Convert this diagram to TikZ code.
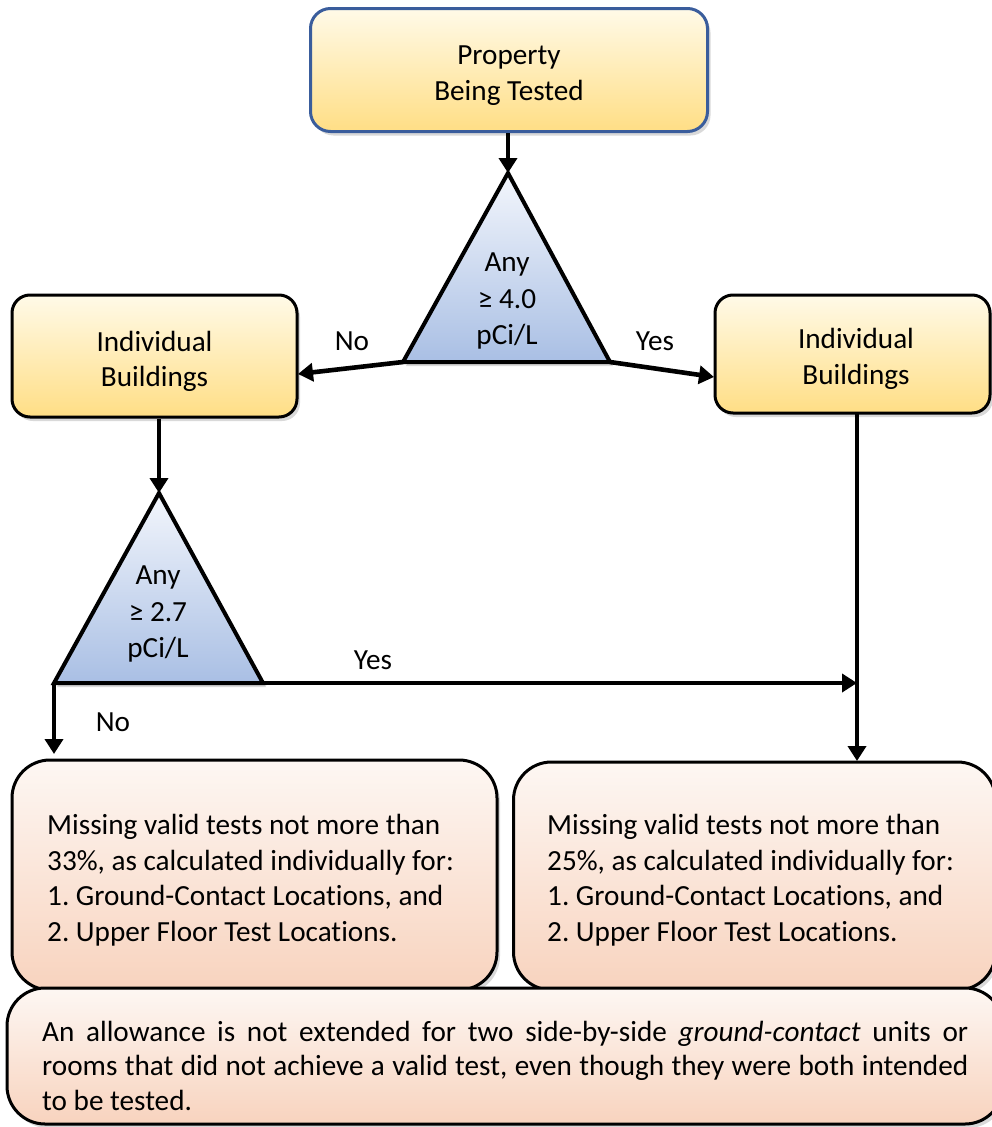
\documentclass[tikz,border=0pt]{standalone}
\usepackage{fontspec}
\setmainfont{Carlito}[Ligatures=NoCommon]
\usetikzlibrary{arrows.meta,shadows}
\definecolor{yTop}{HTML}{FFFAE8}
\definecolor{yBot}{HTML}{FFDE85}
\definecolor{bTop}{HTML}{F3F6FC}
\definecolor{bBot}{HTML}{A9BFE4}
\definecolor{pTop}{HTML}{FDF7F3}
\definecolor{pBot}{HTML}{F8D3BE}
\definecolor{topBorder}{HTML}{3A5D9C}
\newcommand\myfs{\fontsize{29.2}{35.5}\selectfont\frenchspacing}
\tikzset{
  shd/.style={drop shadow={opacity=0.3,shadow xshift=3pt,shadow yshift=-4pt}},
  ybox/.style={draw=black, line width=3pt, rounded corners=18pt, top color=yTop, bottom color=yBot,
    shd, inner sep=0pt},
  pbox/.style={draw=black, line width=3pt, rounded corners=38pt, top color=pTop, bottom color=pBot,
    shd, inner sep=0pt},
  tri/.style={draw=black, line width=4pt, top color=bTop, bottom color=bBot, shd},
  arr/.style={line width=4.6pt, -{Triangle[length=15pt,width=18pt]}},
  lbl/.style={font=\myfs, inner sep=0pt},
  ctext/.style={font=\myfs, align=center, inner sep=0pt},
  ltext/.style={font=\myfs, align=left, inner sep=0pt, anchor=west},
  tritext/.style={font=\fontsize{29.2}{36.5}\selectfont, align=center, inner sep=0pt}
}
\begin{document}
\begin{tikzpicture}[x=1pt,y=-1pt]
\useasboundingbox (0,0) rectangle (992,1127);

% top box
\node[ybox, draw=topBorder, rounded corners=20pt, minimum width=397pt, minimum height=123pt] (prop) at (509,70) {};
\node[ctext] (propT) at (509,75.5) {Property\\Being Tested};

% side boxes
\node[ybox, minimum width=285pt, minimum height=122pt] (lb) at (154.5,356) {};
\node[ctext] (lbT) at (154.5,361.5) {Individual\\Buildings};
\node[ybox, minimum width=275pt, minimum height=118pt] (rb) at (852.5,354) {};
\node[ctext] (rbT) at (856,359) {Individual\\Buildings};

% triangle 1
\coordinate (t1a) at (508,173);
\coordinate (t1l) at (403,362);
\coordinate (t1r) at (610,362);
\path[tri] (t1a) -- (t1l) -- (t1r) -- cycle;
\node[tritext] (t1) at (507,301) {Any\\≥ 4.0\\pCi/L};

% triangle 2
\coordinate (t2a) at (159,493);
\coordinate (t2l) at (54,683);
\coordinate (t2r) at (263,683);
\path[tri] (t2a) -- (t2l) -- (t2r) -- cycle;
\node[tritext] (t2) at (158,614) {Any\\≥ 2.7\\pCi/L};

% bottom boxes
\node[pbox, minimum width=485pt, minimum height=230pt] (bl) at (254.5,875) {};
\node[ltext] (blT) at (47,880)
  {Missing valid tests not more than\\33\%, as calculated individually for:\\1. Ground-Contact Locations, and\\2. Upper Floor Test Locations.};
\node[pbox, minimum width=482pt, minimum height=228pt] (br) at (754.5,876) {};
\node[ltext] (brT) at (547,880)
  {Missing valid tests not more than\\25\%, as calculated individually for:\\1. Ground-Contact Locations, and\\2. Upper Floor Test Locations.};
\node[pbox, minimum width=996pt, minimum height=136pt] (note) at (505,1056) {};
\node[ltext, font=\fontsize{29.2}{34.5}\selectfont\frenchspacing] (noteT) at (42,1065.5)
  {\hbox to 926pt{An allowance is not extended for two side-by-side \textit{ground-contact} units or}\\
   \hbox to 926pt{rooms that did not achieve a valid test, even though they were both intended}\\
   to be tested.};

% coordinates for connectors
\coordinate (propS) at (prop.south -| t1a);
\coordinate (lbS) at (lb.south -| t2a);
\coordinate (rbS) at (857,413);
\coordinate (join) at (857,683);
\coordinate (brN) at (857,761);
\coordinate (noEnd) at (54,754);
\coordinate (lbE) at (298,374);
\coordinate (rbW) at (714,377);

% connectors
\draw[arr] (propS) -- (t1a);
\draw[arr] (t1l) -- (lbE);
\draw[arr] (t1r) -- (rbW);
\draw[arr] (lbS) -- (t2a);
\draw[arr] (t2r) -- (join);
\draw[arr] (rbS) -- (brN);
\draw[arr] (t2l) -- (noEnd);

% labels
\node[lbl] (lno1) at (352,341) {No};
\node[lbl] (lyes1) at (655,341) {Yes};
\node[lbl] (lyes2) at (373,660) {Yes};
\node[lbl] (lno2) at (113,722) {No};
\end{tikzpicture}
\end{document}
